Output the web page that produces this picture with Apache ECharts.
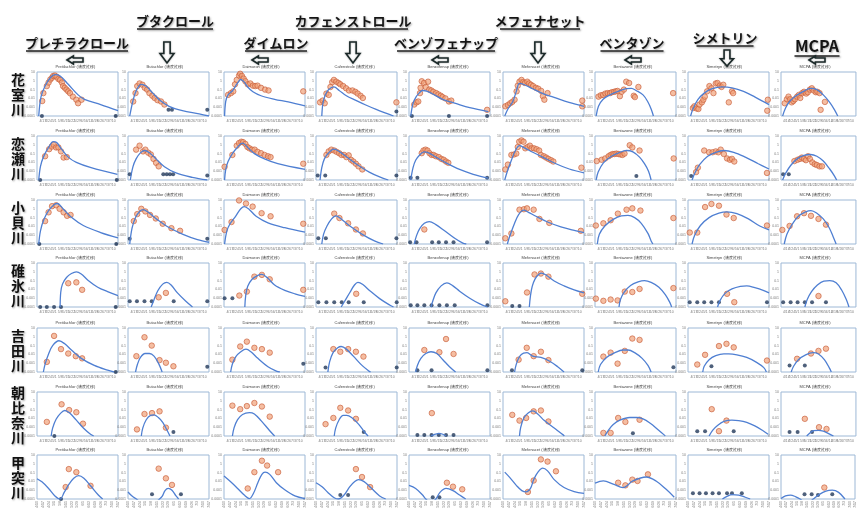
<!DOCTYPE html>
<html><head><meta charset="utf-8">
<script src="https://cdn.jsdelivr.net/npm/echarts@6/dist/echarts.min.js"></script>
<style>html,body{margin:0;padding:0;background:#fff}#c{width:857px;height:511px}</style>
</head><body><div id="c"></div><script>
// ---- categories / labels ----
const pesticides = ['プレチラクロール','ブタクロール','ダイムロン','カフェンストロール','ベンゾフェナップ','メフェナセット','ベンタゾン','シメトリン','MCPA'];
const pesticidesEn = ['Pretilachlor','Butachlor','Daimuron','Cafenstrole','Benzofenap','Mefenacet','Bentazone','Simetryn','MCPA'];
const rivers = ['花室川','恋瀬川','小貝川','碓氷川','吉田川','朝比奈川','甲突川'];
const xTickLabels = ['4/10','4/17','4/24','5/1','5/8','5/15','5/22','5/29','6/5','6/12','6/19','6/26','7/3','7/10','7/17'];
const yTickLabels = ['0.0001','0.001','0.01','0.1','1','10'];

// ---- data: [weekIndex, log-scale position] ; curve = predicted, obs = measured, nd = below detection ----
const hanamuroCurve = [
 [[0.3,0],[0.7,2.2],[1.4,3.4],[2.3,4.35],[3.1,4.7],[4.0,4.55],[5.4,3.6],[7.1,2.4],[8.2,1.9],[11.0,1.3],[14,0.6]],
 [[0.3,0],[0.9,1.85],[1.5,3.0],[2.3,3.6],[3.1,3.4],[4.3,2.6],[5.4,1.85],[7.1,1.1],[9.4,0.6],[12.3,0.25],[14,0]],
 [[0.1,0],[0.3,1.65],[0.7,2.4],[1.5,2.9],[2.3,3.7],[2.9,4.15],[3.5,3.85],[4.1,3.3],[5.0,2.75],[6.4,2.3],[8.75,1.9],[11.1,1.6],[14,1.15]],
 [[1.0,0],[1.2,1.45],[1.6,2.4],[2.2,3.0],[3.1,3.3],[4.0,2.9],[5.25,2.3],[6.8,1.8],[8.6,1.25],[10.4,0.75],[12.2,0.3],[13.4,0]],
 [[0.3,0],[0.7,1.45],[1.2,2.15],[1.75,2.6],[2.3,2.9],[3.2,2.8],[4.4,2.4],[5.8,1.9],[8.2,1.4],[10.5,0.95],[13.7,0.5]],
 [[0.3,0],[0.85,0.8],[1.7,1.65],[2.3,2.8],[2.85,3.7],[3.7,3.55],[5.1,3.1],[6.9,2.55],[9.1,2.05],[11.4,1.55],[14,1.1]],
 [[0.2,0],[0.6,1.1],[1.4,1.9],[2.6,2.4],[4.0,2.8],[5.4,3.1],[6.3,3.15],[7.1,2.9],[8.3,2.4],[9.1,1.65],[9.7,0.8],[10.1,0]],
 [[0.45,0],[0.85,0.8],[1.7,1.85],[2.8,2.6],[4.2,3.1],[5.9,3.3],[7.6,3.2],[9.6,2.8],[11.6,2.15],[14,1.3]],
 [[0.3,0],[0.85,0.9],[1.6,1.65],[2.8,2.3],[4.2,2.8],[5.5,3.15],[6.7,3.0],[7.9,2.4],[9.1,1.55],[10.0,0.7],[10.6,0]]
];
const hanamuroObs = [
 [[0.9,1.7],[1.1,2.6],[1.7,3.4],[2.0,3.8],[2.3,4.15],[2.6,4.35],[2.8,4.55],[3.1,4.6],[3.4,4.45],[3.7,4.2],[4.0,4.1],[4.3,3.8],[4.5,3.4],[4.8,3.2],[5.1,3.0],[5.4,2.8],[5.7,2.6],[6.2,2.2],[6.8,1.85],[7.1,1.45],[7.7,1.85]],
 [[0.9,1.65],[1.3,2.6],[1.6,3.4],[2.0,3.7],[2.5,3.55],[2.9,3.2],[3.3,3.0],[3.7,2.6],[4.2,2.3],[4.6,2.05],[5.1,1.8],[5.7,1.65],[6.3,1.3]],
 [[0.7,2.4],[1.2,2.6],[1.6,2.8],[1.9,3.6],[2.2,4.1],[2.6,4.6],[2.8,4.8],[3.1,4.55],[3.4,4.25],[3.7,3.95],[4.1,3.6],[4.55,3.7],[5.0,3.45],[5.4,3.4],[5.8,3.45],[6.4,3.2],[7.1,3.0],[7.7,2.9],[13.7,2.8]],
 [[0.7,1.55],[1.15,1.75],[1.5,1.45],[1.8,2.55],[2.2,2.4],[2.5,3.3],[2.8,3.85],[3.1,4.1],[3.5,3.9],[3.9,3.75],[4.2,3.6],[4.7,3.4],[5.2,3.15],[5.7,2.9],[6.3,2.9],[6.8,2.75],[7.2,2.55],[7.7,2.3],[8.1,2.05],[13.9,1.55]],
 [[0.9,1.3],[1.3,1.55],[1.6,1.65],[1.9,2.6],[2.0,3.2],[2.2,3.95],[2.6,3.75],[2.9,3.3],[3.3,3.9],[3.5,3.0],[3.85,2.9],[4.2,2.75],[4.7,2.6],[5.1,2.45],[5.5,2.3],[5.8,2.15],[6.3,2.0],[6.9,1.65],[7.3,1.75],[13.5,0.7]],
 [[0.4,1.1],[0.85,1.25],[1.25,1.45],[1.6,1.6],[2.0,1.85],[2.35,2.8],[2.55,3.45],[2.85,3.9],[3.2,4.1],[3.5,3.85],[3.8,3.75],[4.2,3.9],[4.5,3.7],[4.85,3.55],[5.2,3.4],[5.7,3.2],[6.1,3.1],[6.6,2.85],[6.9,2.25],[7.15,1.85],[7.7,2.6],[13.7,1.75],[13.7,1.1]],
 [[0.6,2.2],[1.0,2.35],[1.4,2.4],[1.8,2.55],[2.2,2.6],[2.6,2.6],[2.9,2.7],[3.3,2.75],[3.6,2.8],[3.9,2.85],[4.3,2.25],[4.6,2.75],[5.0,3.0],[5.4,3.9],[5.9,3.75],[6.7,2.3],[6.9,2.15],[7.5,3.3],[13.5,2.6]],
 [[0.85,0.9],[1.1,1.1],[1.5,0.85],[1.8,0.8],[2.0,1.3],[2.4,1.55],[2.65,1.85],[2.9,2.2],[3.3,2.8],[3.7,3.4],[4.05,3.15],[4.4,2.6],[4.8,3.7],[5.1,3.75],[5.5,3.45],[5.8,3.3],[6.1,3.55],[7.05,1.55],[7.6,2.8],[7.8,2.6],[13.8,1.85],[13.7,0.6]],
 [[0.7,1.45],[1.1,1.9],[1.4,2.2],[1.7,1.9],[2.0,1.55],[2.3,1.7],[2.6,1.9],[3.0,2.2],[3.35,2.4],[3.6,2.05],[3.95,2.6],[4.3,2.75],[4.7,2.55],[5.0,2.7],[5.4,3.0],[5.75,3.15],[6.1,2.9],[6.5,2.7],[6.8,2.75],[7.2,2.6],[7.4,0.7],[8.2,1.6]]
];
const hanamuroND = [[[0.85,0],[13.6,0]],[[7.0,0.7],[7.6,0.7],[13.7,0.7]],[],[[13.9,0.5]],[[0.5,0],[6.9,0],[13.5,0]],[],[],[],[]];

const koiseCurve = [
 [[0.3,0],[0.6,1.55],[1.1,2.6],[2.0,3.7],[2.8,4.35],[3.4,4.25],[4.25,3.5],[5.4,2.6],[6.8,2.0],[9.35,1.4],[13.9,0.65]],
 [[0.4,0],[0.85,1.5],[1.4,2.4],[2.1,3.05],[2.85,3.35],[3.7,3.1],[4.85,2.4],[6.3,1.5],[8.3,0.8],[11.1,0.3],[13.7,0]],
 [[0.1,0],[0.3,1.2],[0.7,2.1],[1.45,3.0],[2.3,3.7],[3.2,4.2],[4.1,3.7],[5.25,3.0],[7.0,2.4],[9.3,1.85],[14,1.2]],
 [[0.7,0],[1.0,1.4],[1.45,2.4],[2.2,3.1],[3.1,3.5],[4.0,3.25],[5.55,2.5],[7.35,1.65],[9.2,0.9],[11.0,0.35],[12.5,0]],
 [[0.3,0],[0.7,1.4],[1.15,2.25],[1.85,2.85],[2.6,3.2],[3.5,3.05],[4.65,2.6],[6.4,1.95],[8.75,1.2],[11.1,0.65],[13.7,0.2]],
 [[0.3,0],[0.75,1.0],[1.45,2.25],[2.15,3.35],[2.85,3.9],[3.7,3.65],[5.15,3.15],[6.85,2.6],[9.15,1.85],[11.45,1.25],[14,0.8]],
 [[0.2,0],[0.55,0.9],[1.45,1.95],[2.85,2.7],[4.3,3.15],[5.45,3.35],[6.55,3.2],[7.7,2.6],[8.55,1.85],[9.25,1.0],[9.7,0]],
 [[0.7,0],[1.15,0.75],[2.0,1.75],[3.4,2.7],[4.8,3.15],[6.2,3.35],[7.9,3.15],[9.9,2.6],[12.15,1.85],[14,1.25]],
 [[0.3,0],[0.85,0.75],[1.8,1.65],[3.0,2.4],[4.3,2.8],[5.5,2.9],[6.7,2.7],[7.9,2.15],[9.1,1.25],[10.0,0.45],[10.4,0]]
];
const koiseObs = [
 [[1.4,2.7],[2.1,3.5],[2.55,3.8],[2.9,4.0],[3.3,3.7],[3.7,3.7],[4.15,3.25],[4.6,2.55],[5.15,2.6]],
 [[1.4,3.45],[2.0,3.9],[2.6,3.25],[3.0,3.45],[3.5,3.1],[3.95,2.9],[4.4,2.4],[4.85,1.95],[5.3,1.55]],
 [[0.1,1.5],[1.45,2.85],[2.2,3.9],[2.6,4.2],[3.0,4.35],[3.3,4.3],[3.7,4.1],[4.05,3.75],[4.4,3.6],[4.85,3.45],[5.3,3.45],[5.8,3.2],[6.4,3.05],[7.0,2.85],[7.6,2.7],[8.05,2.6],[13.7,1.85]],
 [[1.8,2.85],[2.2,3.25],[2.65,3.45],[3.15,3.35],[3.55,3.2],[4.0,3.05],[4.4,2.85],[4.85,2.85],[5.25,2.6],[5.65,2.8],[6.05,2.3],[6.45,2.1],[6.9,1.85],[7.35,1.55],[8.0,1.2]],
 [[2.2,3.05],[2.5,3.35],[2.85,3.45],[3.2,3.35],[3.55,3.05],[3.9,2.85],[4.25,2.85],[4.65,2.7],[5.15,2.6],[5.6,2.4],[6.0,2.3],[6.4,2.1],[6.8,1.95]],
 [[0.4,1.2],[0.85,1.75],[1.45,2.85],[1.9,2.9],[2.3,3.0],[2.55,3.75],[2.8,4.35],[3.2,4.5],[3.55,4.35],[3.85,3.6],[4.25,3.75],[4.65,3.9],[4.95,3.6],[5.35,3.6],[5.8,3.5],[6.25,3.35],[6.55,2.85],[7.05,2.7],[7.45,2.55],[7.85,2.4],[8.3,2.25],[8.7,2.1],[13.55,1.4]],
 [[0.3,2.15],[1.15,2.3],[1.75,2.45],[2.35,2.7],[2.7,2.85],[3.05,2.95],[3.35,2.95],[3.7,3.0],[4.05,2.95],[4.4,2.9],[4.75,2.85],[5.1,3.0],[6.0,3.95],[6.45,3.7],[7.7,3.35],[13.6,2.45]],
 [[1.4,0.9],[1.7,1.4],[2.8,3.35],[3.65,3.15],[4.25,3.15],[4.8,3.25],[5.25,3.15],[5.65,3.45],[6.2,2.95],[6.75,2.45],[7.25,2.3],[7.6,2.4],[8.0,2.1],[13.65,0.8]],
 [[2.5,2.15],[3.1,2.3],[3.55,2.4],[3.9,2.55],[4.3,2.4],[4.65,2.25],[5.05,2.7],[5.4,2.4],[5.85,2.0],[6.3,1.8],[6.7,1.7],[7.2,1.55],[7.65,1.55]]
];
const koiseND = [[[0.55,0],[13.8,0]],[[0.3,0.65],[6.1,0.65],[6.7,0.65],[7.25,0.65],[7.8,0.65],[13.7,0.5]],[],[[0.3,0.5],[1.6,0.5],[13.9,0.5]],[[0.3,0.25],[1.45,0.25],[13.5,0.25]],[],[[7.15,0.45]],[[0.55,0.45]],[[0.4,0.65],[1.45,0.65]]];

const kokaiCurve = [
 [[0.3,0],[0.6,1.5],[1.2,2.8],[2.0,3.8],[3.0,4.5],[3.5,4.6],[4.5,4.0],[6.0,3.0],[8.0,2.1],[11.0,1.3],[14,0.7]],
 [[0.3,0],[0.7,1.8],[1.3,3.0],[2.0,3.7],[2.6,3.9],[3.5,3.6],[5.0,2.8],[7.0,1.9],[9.5,1.1],[12.0,0.5],[14,0.2]],
 [[0.1,0],[0.5,1.5],[1.05,2.3],[2.0,3.15],[2.9,4.0],[3.5,4.25],[4.4,3.9],[5.55,3.15],[7.6,2.4],[10.5,1.85],[14,1.35]],
 [[1.0,0],[1.3,1.1],[1.9,2.05],[2.7,2.85],[3.45,3.2],[4.35,2.85],[5.85,2.05],[8.0,1.1],[10.1,0.35],[11.6,0]],
 [[0.9,0],[1.3,0.95],[1.85,1.75],[2.65,2.35],[3.5,2.55],[4.65,2.2],[6.15,1.5],[7.9,0.65],[9.3,0.1],[9.9,0]],
 [[0.75,0],[1.15,0.85],[1.9,2.2],[2.7,3.35],[3.6,3.85],[4.4,3.6],[5.7,3.15],[7.7,2.5],[10.0,1.95],[12.3,1.55],[14,1.3]],
 [[0.4,0],[0.75,1.1],[1.7,2.05],[3.15,2.8],[4.55,3.2],[5.7,3.25],[6.85,3.0],[8.0,2.35],[9.15,1.2],[9.7,0.35],[10.0,0]],
 [[0.7,0],[1.15,1.0],[2.15,2.1],[3.65,3.0],[5.35,3.5],[6.75,3.65],[8.45,3.45],[10.45,2.85],[12.4,2.05],[14,1.6]],
 [[0.6,0],[1.1,1.1],[2.05,2.2],[3.25,3.15],[4.6,3.65],[5.6,3.8],[6.7,3.5],[7.9,2.85],[9.0,1.85],[9.8,0.75],[10.3,0]]
];
const kokaiObs = [
 [[1.4,2.6],[2.0,3.6],[2.6,4.3],[3.3,4.4],[3.9,4.0],[4.6,3.6],[5.2,3.2],[5.8,3.3]],
 [[1.0,2.6],[1.6,3.4],[2.3,4.0],[3.0,3.7],[3.8,3.3],[4.8,2.9],[6.0,2.3],[7.5,1.8],[9.0,1.5]],
 [[0.1,1.6],[1.3,2.5],[2.6,4.95],[3.8,4.6],[4.95,4.25],[6.5,3.5],[8.05,3.15],[13.7,2.3]],
 [[3.15,3.45],[4.05,2.95],[5.55,2.35],[6.9,1.65],[8.1,1.2]],
 [[2.65,1.65]],
 [[0.4,0.65],[1.45,1.2],[2.85,3.9],[3.6,3.95],[4.15,4.05],[5.3,3.9],[6.3,2.85],[8.0,2.4],[13.45,1.5]],
 [[0.15,2.1],[1.45,2.35],[2.7,2.7],[3.95,3.45],[5.45,3.9],[6.45,4.05],[7.85,3.8],[13.55,2.95]],
 [[0.3,1.3],[1.6,1.3],[2.95,4.2],[4.05,4.55],[5.35,4.35],[6.65,3.35],[7.9,2.95],[13.65,2.1]],
 [[0.25,1.6],[1.6,2.05],[3.0,3.15],[4.3,3.5],[5.6,3.2],[7.0,2.85],[8.4,2.2]]
];
const kokaiND = [[[0.4,0],[13.7,0]],[[0.3,0.6],[13.7,0.6]],[],[[0.4,0.65],[1.7,0.65],[13.9,0.65]],[[0.2,0.2],[1.3,0.2],[4.0,0.2],[5.15,0.2],[6.4,0.2],[7.7,0.2],[13.5,0.2]],[],[],[],[]];

const usuiCurve = [
 [[4.0,0],[4.1,1.65],[4.4,2.6],[5.1,3.35],[5.95,3.8],[6.8,4.0],[7.65,3.75],[8.8,3.05],[10.5,2.25],[12.2,1.75],[14,1.3]],
 [[4.0,0],[4.45,0.75],[5.15,1.85],[6.0,2.6],[6.7,2.8],[7.45,2.5],[8.55,1.6],[10.0,0.65],[11.15,0]],
 [[3.6,0],[3.75,1.3],[4.1,2.35],[4.85,3.15],[5.85,3.6],[6.55,3.7],[7.45,3.35],[8.75,2.5],[10.5,1.9],[12.25,1.5],[14,1.2]],
 [[4.35,0],[4.95,0.65],[5.85,1.65],[6.65,2.5],[7.25,2.8],[8.1,2.55],[9.3,1.85],[11.0,0.95],[12.8,0.2],[13.4,0]],
 [[3.8,0],[4.1,0.65],[4.65,1.6],[5.55,2.4],[6.55,2.75],[7.6,2.4],[8.75,1.8],[10.5,1.0],[12.25,0.35],[13.55,0]],
 [[4.55,0],[4.75,1.3],[5.05,2.35],[5.55,3.2],[6.15,3.7],[6.7,3.85],[7.5,3.6],[8.85,2.95],[10.55,2.4],[12.3,1.95],[14,1.6]],
 [[4.15,0],[4.4,0.85],[5.05,1.7],[6.15,2.45],[7.45,2.85],[8.55,3.0],[9.7,2.8],[11.05,2.25],[12.15,1.4],[12.95,0.5],[13.25,0]],
 [[5.1,0],[5.55,0.75],[6.4,1.55],[7.6,2.05],[9.05,2.35],[10.15,2.4],[11.55,2.2],[13.0,1.9],[14,1.6]],
 [[4.45,0],[4.9,0.85],[5.7,1.75],[6.8,2.5],[8.0,2.95],[9.1,3.0],[10.3,2.75],[11.35,1.9],[12.2,0.85],[12.7,0]]
];
const usuiObs = [
 [[5.4,2.7],[6.8,2.8],[7.8,1.95]],
 [[5.3,1.1],[6.55,1.6]],
 [[2.65,1.3],[3.95,1.75],[5.25,3.45],[6.55,3.65],[7.9,3.15],[13.7,1.95]],
 [[6.95,1.5]],
 [],
 [[0.4,0.65],[4.15,1.65],[5.45,3.7],[6.55,3.8],[7.85,3.45],[13.7,1.5]],
 [[0.15,0.95],[1.45,0.7],[2.7,0.85],[3.9,0.75],[5.15,1.75],[6.45,1.7],[7.7,2.05],[13.55,2.15]],
 [[6.75,1.5],[8.0,0.55]],
 [[7.0,1.25]]
];
const usuiND = [
 [[0.55,0],[1.7,0],[2.95,0],[4.15,0],[13.6,0]],
 [[0.3,0.65],[1.55,0.65],[2.85,0.65],[4.1,0.65],[7.9,0.65],[13.7,0.65]],
 [[0.1,1.0],[1.45,1.0]],
 [[0.4,0.55],[1.8,0.55],[3.15,0.55],[4.45,0.55],[5.65,0.55],[8.25,0.55],[13.95,0.55]],
 [[0.3,0.2],[1.45,0.2],[2.65,0.2],[3.9,0.2],[5.25,0.2],[6.55,0.2],[7.9,0.2],[13.55,0.2]],
 [[1.6,0.1],[2.85,0.1]],
 [],
 [[0.3,0.55],[1.6,0.55],[2.8,0.55],[4.05,0.55],[5.35,0.55],[13.65,0.55]],
 [[0.4,0.55],[1.8,0.55],[3.1,0.55],[4.45,0.55],[5.8,0.55],[8.4,0.55]]
];

const yoshidaCurve = [
 [[1.1,0],[1.4,0.9],[2.0,2.05],[2.7,3.0],[3.8,3.55],[4.8,3.2],[5.95,2.5],[7.65,1.55],[9.9,0.75],[12.2,0.2],[13.3,0]],
 [[1.3,0],[1.65,0.9],[2.15,1.65],[2.95,2.1],[3.7,2.1],[4.5,1.8],[5.3,0.95],[5.9,0]],
 [[1.15,0],[1.45,0.9],[2.05,1.75],[2.9,2.3],[3.8,2.6],[4.65,2.3],[5.85,1.55],[7.6,0.6],[9.05,0.1],[9.65,0]],
 [[2.05,0],[2.35,1.15],[2.95,2.2],[3.75,2.75],[4.35,2.9],[5.25,2.6],[6.45,1.8],[7.95,0.75],[9.15,0.1],[9.45,0]],
 [[1.15,0],[1.45,0.75],[2.05,1.55],[2.9,2.1],[3.8,2.3],[4.8,2.1],[5.85,1.4],[7.0,0.6],[8.05,0]],
 [[2.0,0],[2.3,0.9],[2.85,1.75],[3.55,2.15],[4.15,2.2],[5.15,1.8],[6.55,1.65],[8.0,1.25],[9.45,0.6],[10.55,0]],
 [[0.55,0],[0.95,0.85],[2.0,1.65],[3.45,2.2],[4.85,2.5],[5.7,2.5],[6.85,2.2],[8.15,1.55],[9.15,0.75],[9.7,0]],
 [[2.55,0],[2.8,0.65],[3.65,1.4],[4.8,1.85],[6.2,2.05],[7.05,2.05],[8.45,1.95],[10.15,1.65],[11.85,1.1],[13.1,0.5],[13.55,0]],
 [[1.9,0],[2.35,0.65],[3.25,1.4],[4.6,1.95],[6.0,2.2],[7.0,2.05],[8.1,1.4],[9.0,0.5],[9.4,0]]
];
const yoshidaObs = [
 [[1.7,1.15],[2.95,4.1],[4.15,2.6],[5.4,2.1],[6.7,1.8],[7.8,1.55]],
 [[1.45,1.8],[2.85,3.95],[4.1,3.0],[5.45,1.35],[6.55,1.05],[7.85,0.65]],
 [[1.45,1.4],[2.8,2.9],[3.95,3.45],[5.25,2.75],[6.55,2.6],[7.9,2.2]],
 [[3.0,2.6],[4.2,2.3],[5.55,2.6],[6.9,2.3],[8.2,1.75]],
 [[2.65,2.5],[5.25,2.25],[6.4,3.75],[7.7,2.05]],
 [[2.7,1.4],[4.1,2.75],[5.3,1.8],[6.55,2.3],[7.85,1.35]],
 [[1.45,1.75],[2.7,2.2],[3.9,0.95],[5.15,2.4],[6.45,3.8],[7.7,3.65]],
 [[1.6,0.85],[2.95,1.95],[5.35,2.95],[6.65,3.2],[7.9,2.8],[13.65,1.3]],
 [[3.0,1.5],[5.6,2.1],[7.0,2.4],[8.4,2.65]]
];
const yoshidaND = [[[13.6,0]],[[13.7,0.6]],[[13.7,0.95]],[[1.65,0.5],[13.95,0.5]],[[1.45,0.2],[3.9,0.2],[13.55,0.2]],[[1.55,0.2],[13.7,0.2]],[[13.55,0.55]],[[4.05,0.65]],[[1.6,0.75],[4.45,0.75]]];

const asahinaCurve = [
 [[2.45,0],[2.7,0.9],[3.3,1.9],[4.1,2.6],[4.8,2.9],[5.65,2.6],[6.8,1.8],[8.1,0.85],[9.25,0.2],[9.8,0]],
 [[2.3,0],[2.55,0.9],[3.15,1.85],[3.9,2.35],[4.45,2.4],[5.25,2.1],[6.0,1.55],[6.75,0.65],[7.25,0]],
 [[1.45,0],[1.75,0.95],[2.35,1.85],[3.2,2.45],[4.4,2.65],[5.25,2.5],[6.4,1.75],[7.9,0.6],[8.75,0]],
 [[3.15,0],[3.4,0.9],[4.0,1.85],[4.7,2.35],[5.3,2.35],[6.15,2.1],[7.35,1.35],[8.45,0.4],[9.0,0]],
 [[3.8,0],[4.55,0.2],[5.15,0.3],[5.85,0.2],[6.4,0]],
 [[2.85,0],[3.05,0.95],[3.6,2.05],[4.4,2.65],[5.15,2.85],[6.0,2.5],[7.15,1.75],[8.85,0.9],[10.45,0.1],[10.6,0]],
 [[1.7,0],[2.3,0.65],[3.15,1.3],[4.3,1.8],[6.0,2.1],[7.15,2.1],[8.3,1.95],[9.55,1.45],[10.85,0.75],[12.0,0.1],[12.15,0]],
 [[3.65,0],[4.25,0.65],[5.1,1.2],[6.2,1.65],[7.6,1.8],[8.75,1.75],[10.15,1.55],[11.55,1.15],[12.85,0.65],[13.85,0.2]],
 [[4.8,0],[5.4,0.35],[6.1,0.6],[7.0,0.65],[7.9,0.55],[9.0,0.25],[9.8,0]]
];
const asahinaObs = [
 [[1.7,1.6],[4.25,3.6],[5.55,2.95],[6.8,2.7],[7.95,1.4]],
 [[1.55,0.75],[2.85,2.5],[4.15,2.6],[5.45,2.8],[6.55,0.95]],
 [[1.45,3.45],[2.8,3.05],[3.95,3.4],[5.25,3.75],[6.55,3.35],[7.9,2.2]],
 [[1.65,1.35],[3.0,2.05],[4.2,3.2],[5.55,2.9],[6.9,1.95]],
 [[3.95,2.6]],
 [[1.6,2.4],[2.85,1.75],[4.0,2.05],[5.3,2.8],[6.55,2.9],[7.85,1.65]],
 [[1.45,0.35],[2.7,0.35],[4.0,2.05],[5.25,1.6],[7.7,1.85]],
 [[4.1,3.05],[5.35,0.55],[6.65,1.75]],
 [[4.45,1.95],[7.1,1.0],[8.5,0.8]]
];
const asahinaND = [[[3.0,0]],[[7.85,0.45]],[],[[8.25,0.45]],[[1.45,0.1],[2.65,0.1],[3.9,0.1],[5.15,0.1],[6.4,0.1],[7.7,0.1]],[],[[6.55,0.3]],[[1.6,0.55],[2.95,0.55],[7.9,0.55]],[[1.6,0.45],[3.1,0.45],[5.8,0.45]]];

const kotsukiCurve = [
 [[0,2.3],[0.85,1.95],[2.0,1.2],[3.1,0.35],[4.0,0],[4.7,0.75],[5.5,1.65],[6.35,2.35],[7.2,2.65],[8.1,2.35],[9.25,1.5],[10.6,0.45],[11.35,0]],
 [[0,0.8],[0.75,0.3],[1.45,0],[3.5,-1.0],[5.45,0],[5.9,0.3],[6.4,0.95],[6.95,1.2],[7.6,1.0],[8.3,0.35],[8.75,0]],
 [[0,2.6],[1.15,1.95],[2.35,1.2],[3.5,0.45],[4.4,0.05],[5.1,0.65],[5.85,1.85],[6.55,2.8],[7.1,3.05],[7.9,2.8],[9.05,1.85],[10.5,1.05],[12.25,0.35],[14,0.05]],
 [[0,1.85],[1.05,1.4],[2.05,0.75],[3.15,0.15],[3.85,0],[4.85,0.45],[5.85,1.4],[6.65,1.95],[7.35,2.2],[8.25,2.0],[9.45,1.3],[11.0,0.35],[12.05,0]],
 [[0,1.55],[1.15,1.2],[2.35,0.45],[2.9,0],[3.8,-0.4],[4.65,0],[5.35,0.75],[6.4,1.2],[7.6,0.95],[8.75,0.45],[9.8,0]],
 [[0.3,3.05],[1.15,2.45],[2.3,1.55],[3.25,0.95],[4.0,0.8],[4.75,1.2],[5.3,2.2],[6.1,3.1],[6.85,3.5],[7.7,3.2],[8.85,2.2],[10.55,1.3],[12.3,0.85],[14,0.65]],
 [[0,1.8],[1.45,2.05],[3.15,1.7],[4.85,1.3],[6.55,2.05],[8.85,2.5],[10.55,2.05],[12.3,1.1],[13.7,0.2]],
 [[5.95,0],[6.75,0.3],[7.6,0.5],[8.75,0.45],[9.9,0.2],[10.75,0]],
 [[0,0.05],[0.85,0.35],[1.8,0.45],[2.8,0.25],[3.6,0],[4.9,-0.55],[6.1,0],[7.2,0.5],[8.5,0.9],[9.7,1.0],[10.9,0.75],[12.1,0]]
];
const kotsukiObs = [
 [[4.95,1.35],[5.5,3.4],[6.8,3.05],[9.25,1.5]],
 [[5.3,3.45],[6.55,2.35],[7.6,1.6]],
 [[4.1,1.2],[5.25,3.05],[6.55,4.35],[7.45,3.8],[9.35,3.05]],
 [[6.9,3.4],[7.95,2.5],[9.35,1.35]],
 [[6.55,1.85],[7.6,1.4],[9.2,1.1]],
 [[4.3,0.8],[5.3,2.1],[6.55,4.5],[7.7,4.25],[9.15,3.15]],
 [[4.0,1.85],[5.25,1.55],[6.45,2.2],[7.35,2.05],[9.15,2.8]],
 [],
 [[8.2,1.3]]
];
const kotsukiND = [[[4.15,0]],[[4.15,0.55],[9.15,0.55]],[],[[4.2,0.45],[5.55,0.45]],[[4.1,0.2],[5.25,0.2]],[],[],[[0.85,0.65],[2.0,0.65],[3.1,0.65],[4.25,0.65],[5.35,0.65],[6.75,0.65],[7.6,0.65],[9.3,0.65]],[[4.45,0.55],[5.8,0.55],[7.0,0.45],[9.7,0.55]]];

const curves = [hanamuroCurve, koiseCurve, kokaiCurve, usuiCurve, yoshidaCurve, asahinaCurve, kotsukiCurve];
const observed = [hanamuroObs, koiseObs, kokaiObs, usuiObs, yoshidaObs, asahinaObs, kotsukiObs];
const notDetected = [hanamuroND, koiseND, kokaiND, usuiND, yoshidaND, asahinaND, kotsukiND];

// ---- layout ----
const colLeft = [37,128,224,316,409,503,595,688,781];
const rowTop = [72,136,200,263,328,392,455];
const boxW = 81, boxH = 44;
const JP = '"Noto Sans CJK JP", "Noto Sans", sans-serif';

const grid = [], xAxis = [], yAxis = [], series = [], graphic = [];
for (let r = 0; r < 7; r++) {
  for (let c = 0; c < 9; c++) {
    const i = r * 9 + c;
    grid.push({left: colLeft[c], top: rowTop[r], width: boxW, height: boxH, show: true,
      borderColor: '#9db8d6', borderWidth: 1, backgroundColor: '#fff', containLabel: false});
    xAxis.push({gridIndex: i, type: 'value', min: 0, max: 14, interval: 1,
      axisLine: {show: false}, axisTick: {show: false}, splitLine: {show: false},
      axisLabel: {fontSize: 3.5, color: '#7a7a7a', margin: r === 6 ? 2 : 3, rotate: r === 6 ? 90 : 0,
        formatter: v => xTickLabels[Math.round(v)] || ''}});
    yAxis.push({gridIndex: i, type: 'value', min: 0, max: 5, interval: 1,
      axisLine: {show: false}, axisTick: {show: false}, splitLine: {show: false},
      axisLabel: {fontSize: 3.5, color: '#7a7a7a', margin: 2,
        formatter: v => yTickLabels[Math.round(v)] || ''}});
    series.push({type: 'line', xAxisIndex: i, yAxisIndex: i, data: curves[r][c], smooth: 0.35,
      showSymbol: false, clip: true, silent: true,
      lineStyle: {color: '#4f7fd2', width: 1.3}});
    series.push({type: 'scatter', xAxisIndex: i, yAxisIndex: i, data: observed[r][c], symbolSize: 5.5,
      clip: true, silent: true,
      itemStyle: {color: 'rgba(240,160,118,0.85)', borderColor: '#c65a35', borderWidth: 0.8}});
    series.push({type: 'scatter', xAxisIndex: i, yAxisIndex: i, data: notDetected[r][c], symbolSize: 4,
      clip: false, silent: true, itemStyle: {color: '#22385a'}});
    // tiny panel title
    graphic.push({type: 'text', left: colLeft[c] + boxW / 2 - 22, top: rowTop[r] - 7, silent: true,
      style: {text: pesticidesEn[c] + ' (濃度推移)', fontSize: 4, fill: '#444', font: '4px ' + JP}});
  }
}

// river labels (vertical)
const rowLabelSize = 14;
rivers.forEach((name, r) => {
  const n = name.length;
  graphic.push({type: 'text', x: 18, y: rowTop[r] + boxH / 2 - n * 15 / 2 + 1, silent: true,
    style: {text: name.split('').join('\n'), font: 'bold ' + rowLabelSize + 'px ' + JP, lineHeight: 15,
      fill: '#111', align: 'center', verticalAlign: 'top',
      textShadowColor: 'rgba(0,0,0,0.35)', textShadowBlur: 2, textShadowOffsetX: 1, textShadowOffsetY: 1}});
});

// column headers
const headerX = [77,175,276,353,446,540,632,725,817];
const headerY = [43,21,43,21,43,21,43,38,46];
const headerW = [102,76,62,110,98,80,63,57,45];
pesticides.forEach((name, c) => {
  graphic.push({type: 'text', x: headerX[c], y: headerY[c], silent: true,
    style: {text: name, font: 'bold ' + (c === 8 ? 16 : 13) + 'px ' + JP, fill: '#151515', align: 'center', verticalAlign: 'middle',
      textShadowColor: 'rgba(0,0,0,0.35)', textShadowBlur: 2, textShadowOffsetX: 1, textShadowOffsetY: 1}});
  const uy = headerY[c] + (c === 8 ? 10 : 8);
  graphic.push({type: 'line', silent: true,
    shape: {x1: headerX[c] - headerW[c] / 2, y1: uy, x2: headerX[c] + headerW[c] / 2, y2: uy},
    style: {stroke: '#222', lineWidth: 1.5, shadowColor: 'rgba(0,0,0,0.4)', shadowBlur: 2, shadowOffsetX: 1, shadowOffsetY: 1}});
});

// big hollow down arrows (upper headers)
function downArrow(cx, y0, w, h) {
  const sw = w * 0.45, sh = h * 0.55;
  return {type: 'polygon', silent: true,
    shape: {points: [[cx - sw / 2, y0], [cx + sw / 2, y0], [cx + sw / 2, y0 + sh], [cx + w / 2, y0 + sh], [cx, y0 + h], [cx - w / 2, y0 + sh], [cx - sw / 2, y0 + sh]]},
    style: {fill: '#fff', stroke: '#1c2a2a', lineWidth: 1.6, shadowColor: 'rgba(0,0,0,0.3)', shadowBlur: 2}};
}
function leftArrow(cx, cy, w, h) {
  const hw = w * 0.4, sh = h * 0.5;
  const x0 = cx - w / 2;
  return {type: 'polygon', silent: true,
    shape: {points: [[x0, cy], [x0 + hw, cy - h / 2], [x0 + hw, cy - sh / 2], [x0 + w, cy - sh / 2], [x0 + w, cy + sh / 2], [x0 + hw, cy + sh / 2], [x0 + hw, cy + h / 2]]},
    style: {fill: '#fff', stroke: '#1c2a2a', lineWidth: 1.6, shadowColor: 'rgba(0,0,0,0.3)', shadowBlur: 2}};
}
[[167,42,14,21],[353,42,14,21],[538,42,14,21],[727,50,13,16]].forEach(a => graphic.push(downArrow(a[0], a[1], a[2], a[3])));
[[75,60],[260,60],[440,60],[633,60],[817,60]].forEach(a => graphic.push(leftArrow(a[0], a[1], 16, 8)));

const chart = echarts.init(document.getElementById('c'), null, {renderer: 'canvas'});
chart.setOption({animation: false, backgroundColor: '#fff', grid, xAxis, yAxis, series, graphic});
</script></body></html>
